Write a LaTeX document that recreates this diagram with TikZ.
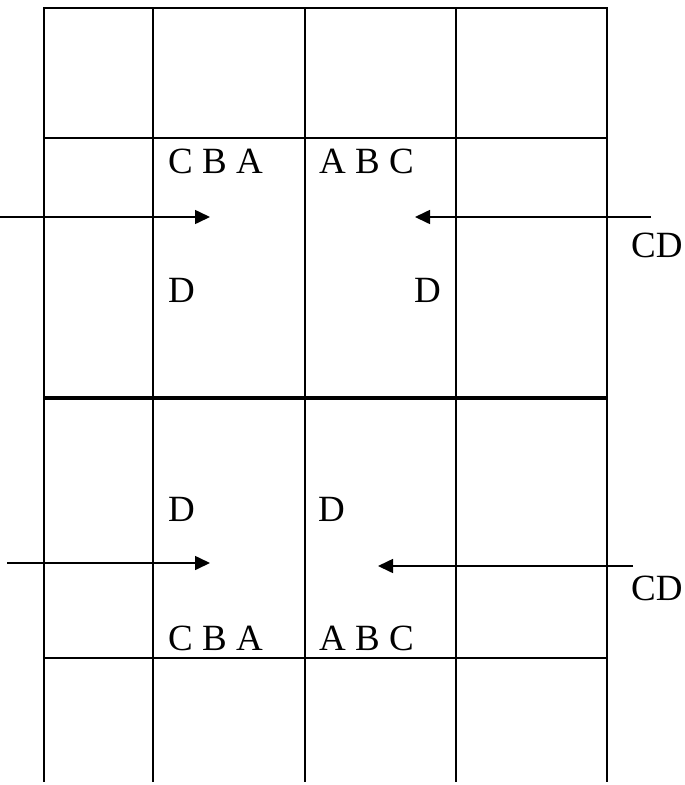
\documentclass[tikz,border=0pt]{standalone}
\usepackage{fontspec}
\setmainfont{Liberation Serif}
\usetikzlibrary{arrows.meta}
\begin{document}
\begin{tikzpicture}[x=1pt,y=-1pt,
  grid/.style={line width=2pt},
  thickline/.style={line width=3.5pt},
  flow/.style={line width=1.6pt,-{Triangle[length=15pt,width=14pt]}},
  lbl/.style={inner sep=0pt,anchor=base west,font=\fontsize{37}{37}\selectfont}]
\useasboundingbox (0,0) rectangle (685,785);
% grid
\foreach \x in {44,153,305,456,607} \draw[grid] (\x,7) -- (\x,782);
\draw[grid] (43,8) -- (608,8);
\draw[grid] (44,138) -- (607,138);
\draw[thickline] (44,398) -- (607,398);
\draw[grid] (44,658) -- (607,658);
% upper labels
\node[lbl] (cba1) at (168,173) {C B A};
\node[lbl] (abc1) at (319,173) {A B C};
\node[lbl] (d1) at (168,302) {D};
\node[lbl] (d2) at (414,302) {D};
\node[lbl] (cd1) at (631,257) {CD};
% lower labels
\node[lbl] (d3) at (168,521) {D};
\node[lbl] (d4) at (318,521) {D};
\node[lbl] (cba2) at (168,650) {C B A};
\node[lbl] (abc2) at (319,650) {A B C};
\node[lbl] (cd2) at (631,600) {CD};
% arrows
\coordinate (a1s) at (0,217);  \coordinate (a1e) at (210,217);
\coordinate (a2s) at (651,217);\coordinate (a2e) at (415,217);
\coordinate (a3s) at (7,563);  \coordinate (a3e) at (210,563);
\coordinate (a4s) at (633,566);\coordinate (a4e) at (378,566);
\draw[flow] (a1s) -- (a1e);
\draw[flow] (a2s) -- (a2e);
\draw[flow] (a3s) -- (a3e);
\draw[flow] (a4s) -- (a4e);
\end{tikzpicture}
\end{document}
